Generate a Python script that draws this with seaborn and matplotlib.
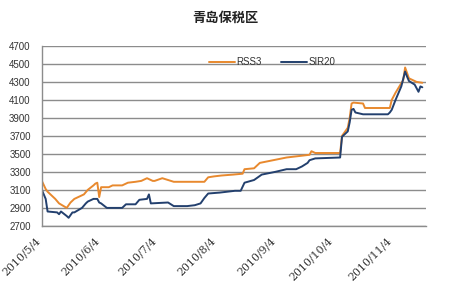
import matplotlib
matplotlib.use("Agg")
import matplotlib.pyplot as plt
import seaborn as sns
import pandas as pd

title = "青岛保税区"
series_names = ["RSS3", "SIR20"]

rss3_dates = ["2010-05-04", "2010-05-06", "2010-05-07", "2010-05-11", "2010-05-13", "2010-05-17",
              "2010-05-19", "2010-05-21", "2010-05-26", "2010-05-28", "2010-05-31", "2010-06-01",
              "2010-06-02", "2010-06-03", "2010-06-04", "2010-06-08", "2010-06-10", "2010-06-15",
              "2010-06-18", "2010-06-22", "2010-06-25", "2010-06-28", "2010-07-01", "2010-07-02",
              "2010-07-06", "2010-07-09", "2010-07-12", "2010-07-28", "2010-07-30", "2010-08-02",
              "2010-08-06", "2010-08-12", "2010-08-17", "2010-08-18", "2010-08-23", "2010-08-26",
              "2010-09-02", "2010-09-09", "2010-09-17", "2010-09-21", "2010-09-22", "2010-09-24",
              "2010-10-07", "2010-10-08", "2010-10-11", "2010-10-12", "2010-10-13", "2010-10-14",
              "2010-10-19", "2010-10-20", "2010-11-02", "2010-11-03", "2010-11-05", "2010-11-09",
              "2010-11-10", "2010-11-12", "2010-11-16", "2010-11-19"]
rss3_values = [3200, 3110, 3080, 3000, 2950, 2900,
               2960, 3000, 3050, 3100, 3150, 3170,
               3180, 3020, 3130, 3130, 3150, 3150,
               3180, 3190, 3200, 3230, 3200, 3200,
               3230, 3210, 3190, 3190, 3240, 3250,
               3260, 3270, 3280, 3330, 3340, 3400,
               3430, 3460, 3480, 3490, 3530, 3510,
               3510, 3700, 3790, 3900, 4060, 4070,
               4060, 4010, 4010, 4100, 4180, 4320,
               4460, 4340, 4300, 4290]

sir20_dates = ["2010-05-04", "2010-05-05", "2010-05-06", "2010-05-07", "2010-05-12", "2010-05-13",
               "2010-05-14", "2010-05-17", "2010-05-18", "2010-05-20", "2010-05-21", "2010-05-25",
               "2010-05-27", "2010-05-28", "2010-05-31", "2010-06-02", "2010-06-03", "2010-06-04",
               "2010-06-07", "2010-06-15", "2010-06-17", "2010-06-22", "2010-06-24", "2010-06-28",
               "2010-06-29", "2010-06-30", "2010-07-09", "2010-07-12", "2010-07-19", "2010-07-23",
               "2010-07-26", "2010-07-28", "2010-07-30", "2010-08-05", "2010-08-13", "2010-08-16",
               "2010-08-18", "2010-08-23", "2010-08-27", "2010-09-03", "2010-09-09", "2010-09-14",
               "2010-09-17", "2010-09-20", "2010-09-21", "2010-09-24", "2010-10-07", "2010-10-08",
               "2010-10-11", "2010-10-12", "2010-10-13", "2010-10-14", "2010-10-15", "2010-10-19",
               "2010-11-01", "2010-11-02", "2010-11-03", "2010-11-05", "2010-11-08", "2010-11-10",
               "2010-11-11", "2010-11-12", "2010-11-15", "2010-11-17", "2010-11-18", "2010-11-19"]
sir20_values = [3100, 3050, 3000, 2860, 2850, 2830,
                2860, 2810, 2790, 2850, 2850, 2900,
                2950, 2970, 3000, 3000, 2960, 2950,
                2900, 2900, 2940, 2940, 2990, 3000,
                3050, 2950, 2960, 2920, 2920, 2930,
                2950, 3010, 3060, 3070, 3090, 3090,
                3180, 3210, 3270, 3300, 3330, 3330,
                3360, 3400, 3430, 3450, 3460, 3690,
                3750, 3850, 3990, 4000, 3960, 3940,
                3940, 3960, 3990, 4100, 4250, 4415,
                4360, 4310, 4270, 4190, 4250, 4240]

x_ticks = ["2010-05-04", "2010-06-04", "2010-07-04", "2010-08-04",
           "2010-09-04", "2010-10-04", "2010-11-04"]
y_ticks = [2700, 2900, 3100, 3300, 3500, 3700, 3900, 4100, 4300, 4500, 4700]

df = pd.concat([
    pd.DataFrame({"date": pd.to_datetime(rss3_dates), "value": rss3_values, "series": series_names[0]}),
    pd.DataFrame({"date": pd.to_datetime(sir20_dates), "value": sir20_values, "series": series_names[1]}),
])

sns.set_style("white")
plt.rcParams["font.family"] = ["Noto Sans CJK SC", "DejaVu Sans"]

fig = plt.figure(figsize=(4.5, 3.0), dpi=100)
ax = fig.add_axes([0.093, 0.247, 0.854, 0.6])

palette = {"RSS3": "#E8892E", "SIR20": "#23406E"}
sns.lineplot(data=df, x="date", y="value", hue="series", palette=palette,
             linewidth=1.4, ax=ax, legend=True)

ax.set_ylim(2700, 4700)
ax.set_yticks(y_ticks)
ax.set_xlim(pd.Timestamp("2010-05-04"), pd.Timestamp("2010-11-21"))
tick_dates = pd.to_datetime(x_ticks)
ax.set_xticks(tick_dates)
ax.set_xticklabels([f"{d.year}/{d.month}/{d.day}" for d in tick_dates],
                   rotation=45, ha="right", va="top", fontsize=7.8, color="#333333",
                   family=["DejaVu Serif"])
ax.tick_params(axis="x", length=4, width=0.8, color="#888888", direction="out", pad=3)
ax.tick_params(axis="y", length=0, labelsize=7, labelcolor="#333333", pad=8)
for lbl in ax.get_yticklabels():
    lbl.set_family(["Liberation Sans"])

ax.grid(axis="y", color="#8C8C8C", linewidth=1.0)
ax.grid(axis="x", visible=False)
ax.set_axisbelow(True)
for s in ["top", "right"]:
    ax.spines[s].set_visible(False)
for s in ["left", "bottom"]:
    ax.spines[s].set_color("#8C8C8C")
    ax.spines[s].set_linewidth(1.0)
ax.set_xlabel("")
ax.set_ylabel("")

leg = ax.legend(loc="upper center", bbox_to_anchor=(0.6, 0.985), ncol=2, frameon=False,
                fontsize=7, handlelength=2.6, handletextpad=0.2, columnspacing=2.0)
for t in leg.get_texts():
    t.set_color("#333333")
    t.set_family(["Liberation Sans"])

fig.text(0.5, 0.94, title, ha="center", va="center", fontsize=9.5, fontweight="bold",
         color="#222222")

fig.savefig("out.png", dpi=100, facecolor="white")
